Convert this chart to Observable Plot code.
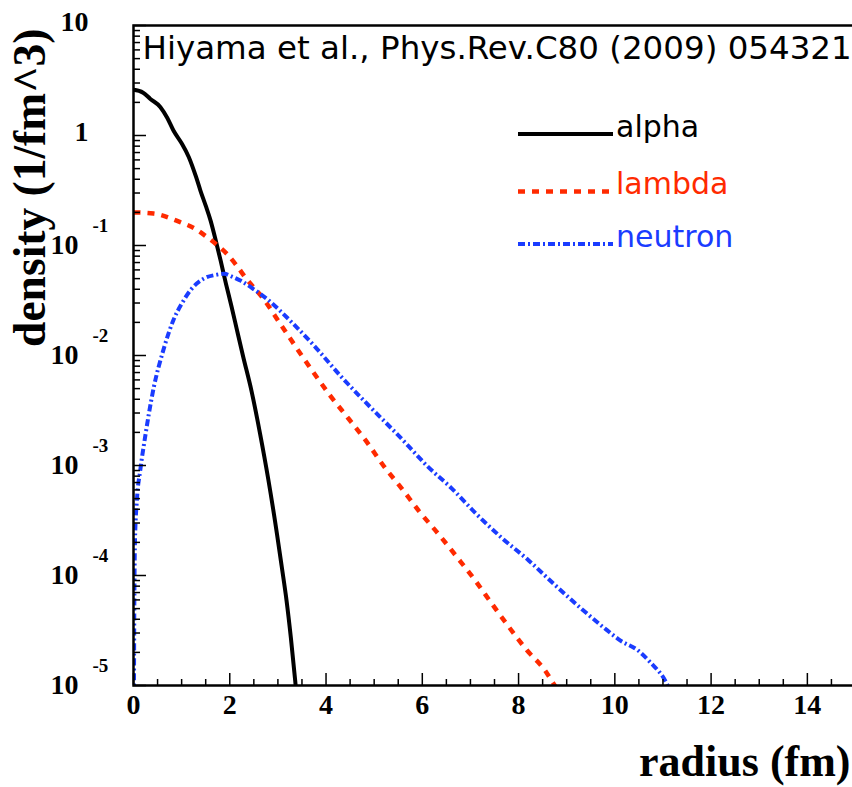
<!DOCTYPE html>
<html><head><meta charset="utf-8">
<script src="https://cdn.jsdelivr.net/npm/d3@7"></script>
<script src="https://cdn.jsdelivr.net/npm/@observablehq/plot@0.6"></script>
<style>
html,body{margin:0;padding:0;background:#fff;overflow:hidden;}
#wrap{position:relative;width:852px;height:787px;}
#wrap svg{display:block;}
#legend{position:absolute;left:0;top:0;pointer-events:none;}
</style></head><body><div id="wrap"></div>
<script>
// ---- data (radius in fm, density in 1/fm^3) ----
const alphaR   = [0, 0.2, 0.35, 0.56, 0.7, 0.83, 1.0, 1.15, 1.3, 1.39, 1.5, 1.6, 1.7, 1.81, 1.92, 2.04, 2.15, 2.28, 2.45, 2.63, 2.8, 2.98, 3.08, 3.18, 3.27, 3.36, 3.45];
const alphaRho = [2.6, 2.45, 2.15, 1.81, 1.45, 1.11, 0.85, 0.635, 0.42, 0.316, 0.23, 0.169, 0.115, 0.073, 0.045, 0.0275, 0.017, 0.0097, 0.0048, 0.00194, 0.00075, 0.00024, 0.00012, 0.000059, 0.000027, 0.000011, 0.000004];

const lambdaR   = [0, 0.42, 0.97, 1.28, 1.53, 1.75, 1.94, 2.14, 2.32, 2.70, 3.05, 3.40, 3.74, 4.09, 4.47, 4.85, 5.19, 5.57, 5.95, 6.33, 6.72, 7.10, 7.45, 7.80, 8.17, 8.55, 8.72, 8.9];
const lambdaRho = [0.2, 0.195, 0.163, 0.142, 0.119, 0.1, 0.084, 0.066, 0.0515, 0.0327, 0.0194, 0.0115, 0.0070, 0.0043, 0.00266, 0.00163, 0.00100, 0.00062, 0.000376, 0.00024, 0.000147, 0.00009, 0.000055, 0.000034, 0.000021, 0.0000137, 0.0000105, 0.000008];

const neutronR   = [0, 0.01, 0.03, 0.07, 0.14, 0.24, 0.42, 0.62, 0.83, 1.0, 1.2, 1.46, 1.7, 1.88, 2.05, 2.22, 2.5, 2.77, 3.29, 3.81, 4.29, 4.81, 5.33, 5.57, 5.81, 6.09, 6.61, 7.13, 7.65, 8.21, 8.73, 9.28, 9.83, 10.11, 10.47, 10.74, 11.05, 11.2];
const neutronRho = [1e-7, 1e-5, 2e-4, 4.8e-4, 9e-4, 1.8e-3, 5.1e-3, 0.0112, 0.021, 0.0295, 0.04, 0.05, 0.054, 0.0553, 0.052, 0.048, 0.04, 0.0327, 0.020, 0.0115, 0.0066, 0.0038, 0.00224, 0.00175, 0.00135, 0.00100, 0.00062, 0.00036, 0.00022, 0.000137, 0.000084, 0.000051, 0.000032, 0.0000257, 0.000021, 0.0000162, 0.000011, 0.000008];

const seriesNames  = ["alpha", "lambda", "neutron"];
const seriesColors = ["#000000", "#ff2a00", "#1a3cff"];
const seriesDash   = [null, "7,7", "7,3,2,3"];
const seriesWidth  = [4, 4.5, 4];

// ---- ticks / labels ----
const xMajorTicks  = [0, 2, 4, 6, 8, 10, 12, 14];
const xTickLabels  = ["0", "2", "4", "6", "8", "10", "12", "14"];
const xMinorTicks  = d3.range(0, 15.01, 0.5).filter(v => v % 2 !== 0);
const yPlainTicks  = [10, 1];
const yPlainLabels = ["10", "1"];
const yExpTicks    = [1e-1, 1e-2, 1e-3, 1e-4, 1e-5];
const yExpLabels   = ["-1", "-2", "-3", "-4", "-5"];
const yMajorTicks  = [1e-5, 1e-4, 1e-3, 1e-2, 1e-1, 1, 10];
const yMinorTicks  = [];
for (let n = -5; n <= 0; n++) for (let k = 2; k <= 9; k++) yMinorTicks.push(k * Math.pow(10, n));

const xTitle = "radius (fm)";
const yTitle = "density (1/fm^3)";
const annotation = "Hiyama et al., Phys.Rev.C80 (2009) 054321";

// ---- layout ----
const W = 852, H = 787;
const mL = 133, mT = 25, mB = 102, mR = -3;
const frameW = W - mL - mR, frameH = H - mT - mB;
const serif = "Liberation Serif, Times New Roman, serif";
const sans = "DejaVu Sans, Verdana, sans-serif";

const rows = (R, V) => R.map((r, i) => ({r, rho: V[i]}));
const curves = [rows(alphaR, alphaRho), rows(lambdaR, lambdaRho), rows(neutronR, neutronRho)];

const lineMarks = curves.map((data, i) => Plot.line(data, {
  x: "r", y: "rho", stroke: seriesColors[i], strokeWidth: seriesWidth[i],
  strokeDasharray: seriesDash[i] || undefined, strokeLinecap: "butt", strokeLinejoin: "round",
  curve: "monotone-x", clip: true
}));

const labelStyle = {fontFamily: serif, fontWeight: "bold", fill: "black"};

const chart = Plot.plot({
  width: W, height: H,
  marginLeft: mL, marginTop: mT, marginBottom: mB, marginRight: mR,
  style: {background: "white", overflow: "visible"},
  x: {domain: [0, 15], axis: null},
  y: {type: "log", domain: [1e-5, 10], axis: null},
  marks: [
    ...lineMarks,
    // ticks (inside frame)
    Plot.tickX(xMajorTicks, {x: d => d, insetTop: frameH - 12, strokeWidth: 1.5}),
    Plot.tickX(xMinorTicks, {x: d => d, insetTop: frameH - 6, strokeWidth: 1.5}),
    Plot.tickY(yMajorTicks, {y: d => d, insetRight: frameW - 13, strokeWidth: 1.5}),
    Plot.tickY(yMinorTicks, {y: d => d, insetRight: frameW - 7, strokeWidth: 1.5}),
    Plot.frame({stroke: "black", strokeWidth: 2.5}),
    // x tick labels
    Plot.text(xMajorTicks, {x: d => d, text: (d, i) => xTickLabels[i], frameAnchor: "bottom",
      dy: 28, lineAnchor: "bottom", fontSize: 28, ...labelStyle}),
    // y tick labels
    Plot.text(yPlainTicks, {y: d => d, text: (d, i) => yPlainLabels[i], frameAnchor: "left",
      dx: -45, dy: 5, textAnchor: "end", lineAnchor: "bottom", fontSize: 28, ...labelStyle}),
    Plot.text(yExpTicks, {y: d => d, text: () => "10", frameAnchor: "left",
      dx: -55, dy: 8, textAnchor: "end", lineAnchor: "bottom", fontSize: 28, ...labelStyle}),
    Plot.text(yExpTicks, {y: d => d, text: (d, i) => yExpLabels[i], frameAnchor: "left",
      dx: -41, dy: -14, textAnchor: "start", lineAnchor: "bottom", fontSize: 19, ...labelStyle}),
    // axis titles
    Plot.text([yTitle], {frameAnchor: "top-left", rotate: -90, textAnchor: "end", lineAnchor: "bottom",
      dx: -89, dy: 3, fontSize: 45.5, ...labelStyle}),
    Plot.text([xTitle], {frameAnchor: "bottom-right", textAnchor: "end", lineAnchor: "bottom",
      dx: -5, dy: 90, fontSize: 44, ...labelStyle}),
    // annotation
    Plot.text([annotation], {frameAnchor: "top-left", textAnchor: "start", lineAnchor: "bottom",
      dx: 9, dy: 33, fontSize: 32.5, fontFamily: sans, fill: "black"})
  ]
});

const wrap = document.getElementById("wrap");
wrap.appendChild(chart);

// ---- legend overlay ----
const legY = [134, 191.5, 244];
const legTextY = [137, 194, 247];
const leg = d3.select(wrap).append("svg").attr("id", "legend").attr("width", W).attr("height", H);
seriesNames.forEach((name, i) => {
  leg.append("line").attr("x1", 518).attr("x2", 613).attr("y1", legY[i]).attr("y2", legY[i])
    .attr("stroke", seriesColors[i]).attr("stroke-width", seriesWidth[i])
    .attr("stroke-dasharray", seriesDash[i]);
  leg.append("text").attr("x", 616).attr("y", legTextY[i]).attr("fill", seriesColors[i])
    .attr("font-family", sans).attr("font-size", 30).text(name);
});
</script>
</body></html>
